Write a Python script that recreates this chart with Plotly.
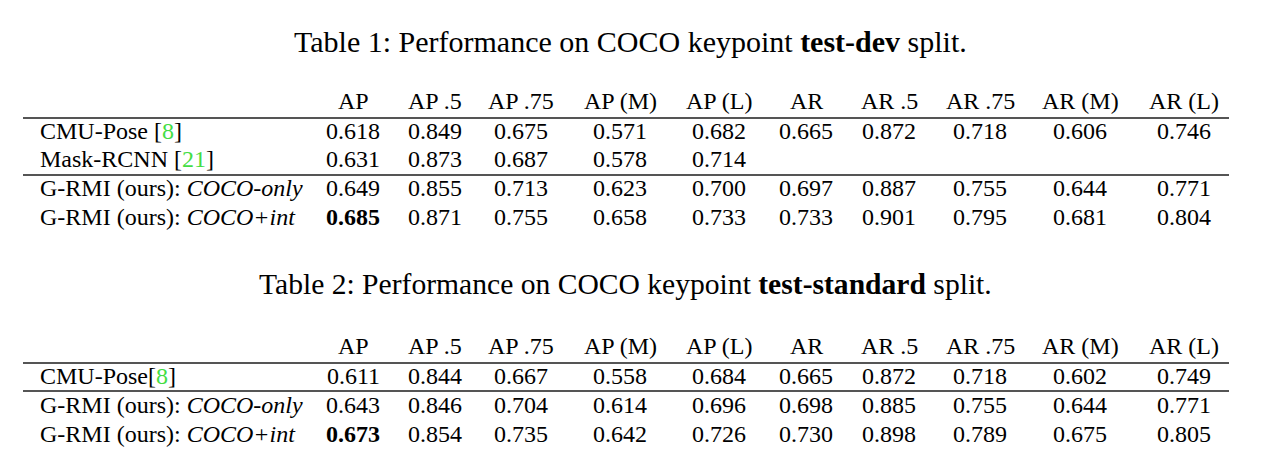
import plotly.graph_objects as go

columns = ["AP", "AP .5", "AP .75", "AP (M)", "AP (L)", "AR", "AR .5", "AR .75", "AR (M)", "AR (L)"]

t1_methods = ["CMU-Pose", "Mask-RCNN", "G-RMI (ours): ", "G-RMI (ours): "]
t1_cites = ["8", "21", None, None]
t1_suffix = [None, None, "COCO-only", "COCO+int"]
t1_values = [
    [0.618, 0.849, 0.675, 0.571, 0.682, 0.665, 0.872, 0.718, 0.606, 0.746],
    [0.631, 0.873, 0.687, 0.578, 0.714, None, None, None, None, None],
    [0.649, 0.855, 0.713, 0.623, 0.700, 0.697, 0.887, 0.755, 0.644, 0.771],
    [0.685, 0.871, 0.755, 0.658, 0.733, 0.733, 0.901, 0.795, 0.681, 0.804],
]
t1_bold = [(3, 0)]

t2_methods = ["CMU-Pose", "G-RMI (ours): ", "G-RMI (ours): "]
t2_cites = ["8", None, None]
t2_suffix = [None, "COCO-only", "COCO+int"]
t2_values = [
    [0.611, 0.844, 0.667, 0.558, 0.684, 0.665, 0.872, 0.718, 0.602, 0.749],
    [0.643, 0.846, 0.704, 0.614, 0.696, 0.698, 0.885, 0.755, 0.644, 0.771],
    [0.673, 0.854, 0.735, 0.642, 0.726, 0.730, 0.898, 0.789, 0.675, 0.805],
]
t2_bold = [(2, 0)]

FONT = "Liberation Serif"
GREEN = "#44dd44"
col_x = [353, 435, 521, 620, 719, 806, 889, 980, 1080, 1184]
LEFT, RIGHT, LABEL_X = 23, 1229, 38

fig = go.Figure()
fig.add_trace(go.Scatter(x=[0, 1270], y=[0, 476], mode="markers", marker=dict(opacity=0), hoverinfo="skip", showlegend=False))

ann = []
shapes = []

def text(x, y, s, size=24, anchor="center"):
    ann.append(dict(x=x, y=y, xref="x", yref="y", text=s, showarrow=False,
                    xanchor=anchor, yanchor="middle",
                    font=dict(family=FONT, size=size, color="black")))

def rule(y, w=2):
    shapes.append(dict(type="line", xref="x", yref="y", x0=LEFT, x1=RIGHT, y0=y, y1=y,
                       line=dict(color="#555555", width=w)))

def table(title, title_x, title_size, y_title, y_head, row_ys, rule_ys, methods, cites, suffix, values, bold, nospace=False):
    text(title_x, y_title, title, size=title_size)
    for cx, c in zip(col_x, columns):
        text(cx, y_head, c)
    for i, (m, c, s) in enumerate(zip(methods, cites, suffix)):
        lab = m
        if c is not None:
            sep = "" if nospace else " "
            lab += sep + "[<span style='color:%s'>%s</span>]" % (GREEN, c)
        if s is not None:
            lab += "<i>%s</i>" % s
        text(LABEL_X, row_ys[i], lab, anchor="left")
        for j, v in enumerate(values[i]):
            if v is None:
                continue
            sv = "%.3f" % v
            if (i, j) in bold:
                sv = "<b>%s</b>" % sv
            text(col_x[j], row_ys[i], sv)
    for ry in rule_ys:
        rule(ry, 2)

table("Table 1: Performance on COCO keypoint <b>test-dev</b> split.", 630, 30, 41, 101,
      [131, 159, 188, 217], [118, 175],
      t1_methods, t1_cites, t1_suffix, t1_values, t1_bold)
table("Table 2: Performance on COCO keypoint <b>test-standard</b> split.", 625, 29.6, 284, 346,
      [376, 405, 434], [363, 391],
      t2_methods, t2_cites, t2_suffix, t2_values, t2_bold, nospace=True)

fig.update_layout(
    width=1270, height=476,
    margin=dict(l=0, r=0, t=0, b=0),
    paper_bgcolor="white", plot_bgcolor="white",
    xaxis=dict(range=[0, 1270], visible=False, fixedrange=True),
    yaxis=dict(range=[476, 0], visible=False, fixedrange=True),
    annotations=ann, shapes=shapes,
    showlegend=False,
)
fig.write_html("out.html", config={"displayModeBar": False},
               post_script="document.body.style.margin='0';document.body.style.padding='0';document.body.style.overflow='hidden';")
